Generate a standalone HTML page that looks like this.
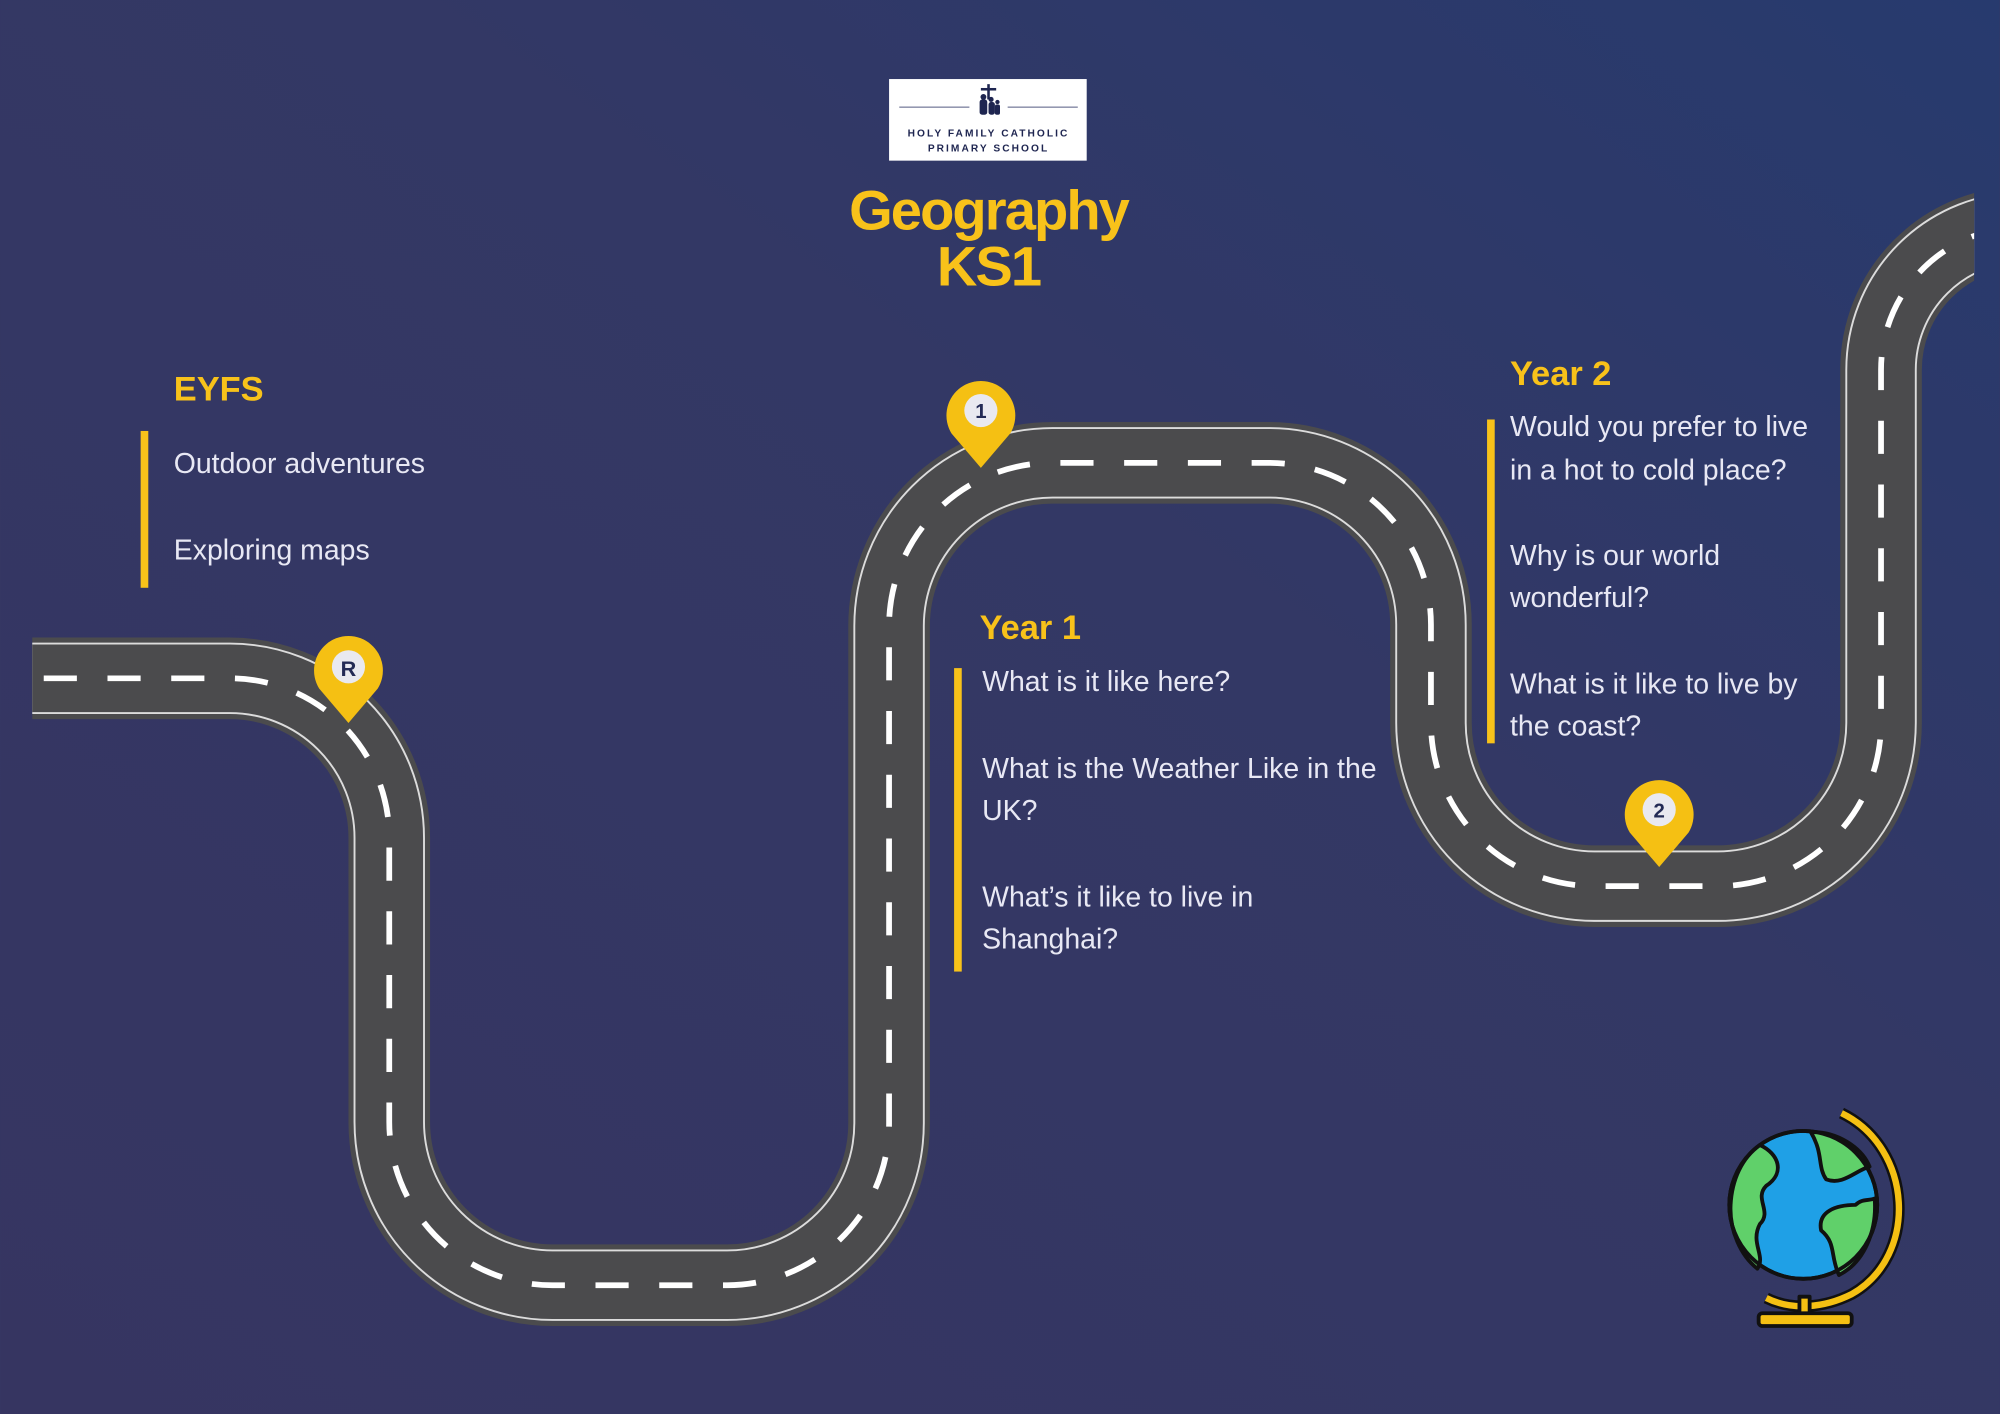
<!DOCTYPE html>
<html><head><meta charset="utf-8"><style>
html,body{margin:0;padding:0;width:2000px;height:1414px;overflow:hidden;background:#353763}
svg{display:block}
</style></head><body>
<svg width="2000" height="1414" viewBox="0 0 1568 1109" xmlns="http://www.w3.org/2000/svg">
<defs>
<linearGradient id="bg" x1="0" y1="1" x2="1" y2="0">
<stop offset="0" stop-color="#363561"/>
<stop offset="0.6" stop-color="#333865"/>
<stop offset="1" stop-color="#273a6e"/>
</linearGradient>
<clipPath id="cl"><rect x="25" y="0" width="1523" height="1109"/></clipPath>
<path id="road" d="M0 532 L180 532 A125 125 0 0 1 305 657 L305 880 A128 128 0 0 0 433 1008 L570 1008 A127 127 0 0 0 697 881 L697 491 A128 128 0 0 1 825 363 L995 363 A127 127 0 0 1 1122 490 L1122 567 A128 128 0 0 0 1250 695 L1347 695 A128 128 0 0 0 1475 567 L1475 290 A112 112 0 0 1 1587 178"/>
</defs>
<rect width="1568" height="1109" fill="url(#bg)"/>
<g clip-path="url(#cl)" fill="none">
<use href="#road" stroke="#4b4b4d" stroke-width="64"/>
<use href="#road" stroke="#dcdcdc" stroke-width="56"/>
<use href="#road" stroke="#4b4b4d" stroke-width="53"/>
<use href="#road" stroke="#ffffff" stroke-width="4.5" stroke-dasharray="26 24" stroke-dashoffset="-34"/>
</g>
<!-- pins -->
<g>
<path d="M273 567 L250 540 A27 27 0 1 1 296 540 Z" fill="#f5c013"/>
<circle cx="273" cy="523" r="13" fill="#e9e9f0"/>
<text x="273" y="530" font-family="Liberation Sans,sans-serif" font-weight="bold" font-size="17" fill="#232a55" text-anchor="middle">R</text>
<path d="M769 367 L746 340 A27 27 0 1 1 792 340 Z" fill="#f5c013"/>
<circle cx="769" cy="322" r="13" fill="#e9e9f0"/>
<text x="769" y="328" font-family="Liberation Sans,sans-serif" font-weight="bold" font-size="16" fill="#232a55" text-anchor="middle">1</text>
<path d="M1301 680 L1278 653 A27 27 0 1 1 1324 653 Z" fill="#f5c013"/>
<circle cx="1301" cy="635" r="13" fill="#e9e9f0"/>
<text x="1301" y="641" font-family="Liberation Sans,sans-serif" font-weight="bold" font-size="16" fill="#232a55" text-anchor="middle">2</text>
</g>
<!-- logo -->
<rect x="697" y="62" width="155" height="64" fill="#ffffff"/>
<line x1="705" y1="84" x2="760" y2="84" stroke="#555a80" stroke-width="0.8"/>
<line x1="790" y1="84" x2="845" y2="84" stroke="#555a80" stroke-width="0.8"/>
<g fill="#1e2550">
<rect x="774" y="66" width="2" height="12"/><rect x="769" y="69" width="12" height="2"/>
<circle cx="771" cy="76" r="2.3"/><rect x="768" y="78" width="6" height="12" rx="2"/>
<circle cx="777" cy="78" r="2"/><rect x="775" y="80" width="5" height="10" rx="2"/>
<circle cx="782" cy="80" r="1.7"/><rect x="780" y="82" width="4" height="8" rx="1.5"/>
</g>
<text x="775" y="107" font-family="Liberation Sans,sans-serif" font-weight="bold" font-size="8" letter-spacing="1.6" fill="#1e2550" text-anchor="middle">HOLY FAMILY CATHOLIC</text>
<text x="775" y="119" font-family="Liberation Sans,sans-serif" font-weight="bold" font-size="8" letter-spacing="1.6" fill="#1e2550" text-anchor="middle">PRIMARY SCHOOL</text>
<!-- title -->
<g font-family="Liberation Sans,sans-serif" font-weight="bold" fill="#f8c21a" text-anchor="middle" letter-spacing="-1.5">
<text x="775" y="180" font-size="44">Geography</text>
<text x="775" y="224" font-size="44">KS1</text>
</g>
<!-- text blocks -->
<g font-family="Liberation Sans,sans-serif" font-weight="bold" fill="#f8c21a" font-size="27">
<text x="136" y="314">EYFS</text>
<text x="768" y="501">Year 1</text>
<text x="1184" y="302">Year 2</text>
</g>
<g fill="#f8c21a">
<rect x="110" y="338" width="6" height="123"/>
<rect x="748" y="524" width="6" height="238"/>
<rect x="1166" y="329" width="6" height="254"/>
</g>
<g font-family="Liberation Sans,sans-serif" fill="#e8e8f4" font-size="22.3">
<text x="136" y="371">Outdoor adventures</text>
<text x="136" y="439">Exploring maps</text>
<text x="770" y="542">What is it like here?</text>
<text x="770" y="610">What is the Weather Like in the</text>
<text x="770" y="643">UK?</text>
<text x="770" y="711">What’s it like to live in</text>
<text x="770" y="744">Shanghai?</text>
<text x="1184" y="342">Would you prefer to live</text>
<text x="1184" y="376">in a hot to cold place?</text>
<text x="1184" y="443">Why is our world</text>
<text x="1184" y="476">wonderful?</text>
<text x="1184" y="544">What is it like to live by</text>
<text x="1184" y="577">the coast?</text>
</g>
<!-- globe -->
<g stroke="#111" stroke-width="3" stroke-linejoin="round">
<path d="M1444 873 C1500 900 1505 985 1452 1015 C1430 1026 1405 1028 1385 1018" fill="none" stroke="#111" stroke-width="9"/>
<path d="M1444 873 C1500 900 1505 985 1452 1015 C1430 1026 1405 1028 1385 1018" fill="none" stroke="#f5c013" stroke-width="5"/>
<rect x="1411" y="1017" width="8" height="14" fill="#f5c013"/>
<rect x="1379" y="1030" width="73" height="10" rx="3" fill="#f5c013"/>
<circle cx="1414" cy="945" r="58" fill="#1fa0e6"/>
<path d="M1380 898 C1395 905 1400 920 1385 930 C1375 940 1390 950 1380 960 C1372 975 1385 985 1378 995 C1365 985 1356 965 1357 945 C1358 925 1366 908 1380 898 Z" fill="#60d06a"/>
<path d="M1420 888 C1440 887 1460 900 1466 915 C1455 918 1445 930 1432 925 C1425 915 1430 905 1420 888 Z" fill="#60d06a"/>
<path d="M1470 940 C1472 965 1462 990 1442 1000 C1435 985 1440 975 1428 965 C1425 950 1440 945 1455 945 C1460 940 1465 942 1470 940 Z" fill="#60d06a"/>
<circle cx="1414" cy="945" r="58" fill="none"/>
</g>
</svg>
</body></html>
